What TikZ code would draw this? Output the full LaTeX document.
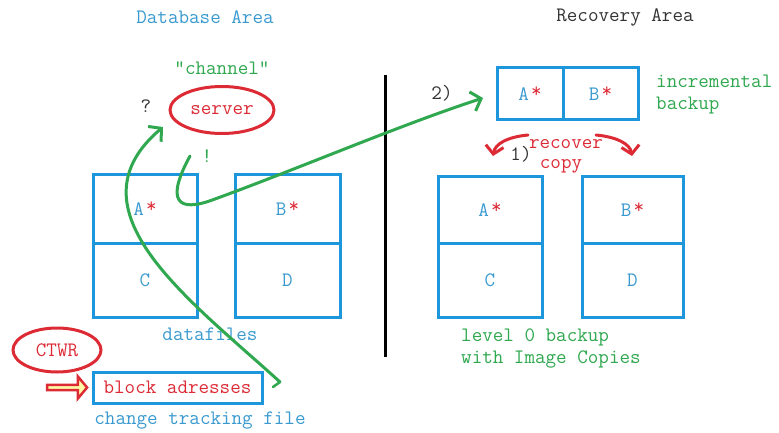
\documentclass[tikz,border=0pt]{standalone}
\usetikzlibrary{shapes.geometric,shapes.arrows,arrows.meta}
\definecolor{bx}{HTML}{1E96DC}
\definecolor{tb}{HTML}{3A9AD0}
\definecolor{gr}{HTML}{2FA84F}
\definecolor{rd}{HTML}{DD2B36}
\definecolor{dk}{HTML}{333333}
\newcommand{\st}{\hspace{2pt}\raisebox{3pt}{\textcolor{rd}{*}}}
\begin{document}
\begin{tikzpicture}[x=1pt,y=-1pt,
  every node/.style={font=\ttfamily\fontsize{20.5}{22}\selectfont, inner sep=0pt},
  cell/.style={draw=bx, line width=3pt, text=tb},
  oval/.style={ellipse, draw=rd, line width=3pt, text=rd},
  garrow/.style={draw=gr, line width=3pt, line cap=round, -{Straight Barb[length=9pt,width=20pt,line width=3pt]}},
  rarrow/.style={draw=rd, line width=3pt, line cap=round, -{Straight Barb[length=8pt,width=18pt,line width=3pt]}},
  lbl/.style={anchor=west}]
\useasboundingbox (0,0) rectangle (779,433);
\fill[white] (0,0) rectangle (779,433);
% titles
\node[text=tb] (tdb) at (205,17) {Database Area};
\node[text=dk] (trc) at (625,17) {Recovery Area};
% server area
\node[text=gr] (chan) at (222,68) {\textquotedbl channel\textquotedbl};
\node[oval, minimum width=104pt, minimum height=47pt] (srv) at (222,110) {server};
\node[text=dk] (q) at (146,106) {?};
\node[text=gr] (ex) at (207,156) {!};
% datafiles
\node[cell, minimum width=104pt, minimum height=69pt] (dA) at (145,208.5) {A\st};
\node[cell, minimum width=104pt, minimum height=74pt] (dC) at (145,280) {C};
\node[cell, minimum width=105pt, minimum height=69pt] (dB) at (287.5,208.5) {B\st};
\node[cell, minimum width=105pt, minimum height=74pt] (dD) at (287.5,280) {D};
\node[text=tb] (dfl) at (210,334) {datafiles};
% CTWR
\node[oval, minimum width=88pt, minimum height=44pt] (ctwr) at (57,350) {CTWR};
\node[cell, text=rd, minimum width=169pt, minimum height=31pt] (blk) at (177.5,387.5) {block adresses};
\node[single arrow, draw=rd, fill=yellow!35, line width=2.5pt, minimum height=40pt, minimum width=22pt, single arrow head extend=4pt, single arrow tip angle=100] (harr) at (66,387.5) {};
\node[text=tb] (ctf) at (200,421) {change tracking file};
% divider
\coordinate (v1) at (385,75);
\coordinate (v2) at (385,357);
\draw[line width=3pt, black] (v1) -- (v2);
% incremental backup
\node[cell, minimum width=66pt, minimum height=52pt] (iA) at (530,94) {A\st};
\node[cell, minimum width=75pt, minimum height=52pt] (iB) at (600.5,94) {B\st};
\node[text=gr, lbl, align=left] (inc) at (656,95) {incremental\\backup};
\node[text=dk] (n2) at (442,93) {2)};
% level 0
\node[cell, minimum width=104pt, minimum height=67pt] (lA) at (490,209.5) {A\st};
\node[cell, minimum width=104pt, minimum height=74pt] (lC) at (490,280) {C};
\node[cell, minimum width=101pt, minimum height=67pt] (lB) at (632.5,209.5) {B\st};
\node[cell, minimum width=101pt, minimum height=74pt] (lD) at (632.5,280) {D};
\node[text=gr, lbl, align=left] (lvl) at (461,348) {level 0 backup\\with Image Copies};
% recover copy
\node[text=rd] (rec) at (566,144) {recover};
\node[text=rd] (cpy) at (561,166) {copy};
\node[text=dk] (n1) at (521,154) {1)};
\coordinate (rl) at (528,135);
\coordinate (rr) at (596,135);
\coordinate (rlt) at (493,156);
\coordinate (rrt) at (632,156);
\draw[rarrow] (rl) .. controls (507,137) and (495,144) .. (rlt);
\draw[rarrow] (rr) .. controls (617,137) and (630,144) .. (rrt);
% green arrows
\coordinate (g1s) at (280,382);
\coordinate (g1h) at (273,387);
\coordinate (g1t) at (163,127);
\draw[draw=gr, line width=2.5pt, line cap=round] (g1s) -- (g1h);
\draw[garrow] (g1s) .. controls (190,300) and (65,210) .. (g1t);
\coordinate (g2s) at (190,156);
\coordinate (g2t) at (483,98);
\draw[garrow] (g2s) .. controls (166,200) and (176,214) .. (215,199) .. controls (300,168) and (400,125) .. (g2t);
\end{tikzpicture}
\end{document}
